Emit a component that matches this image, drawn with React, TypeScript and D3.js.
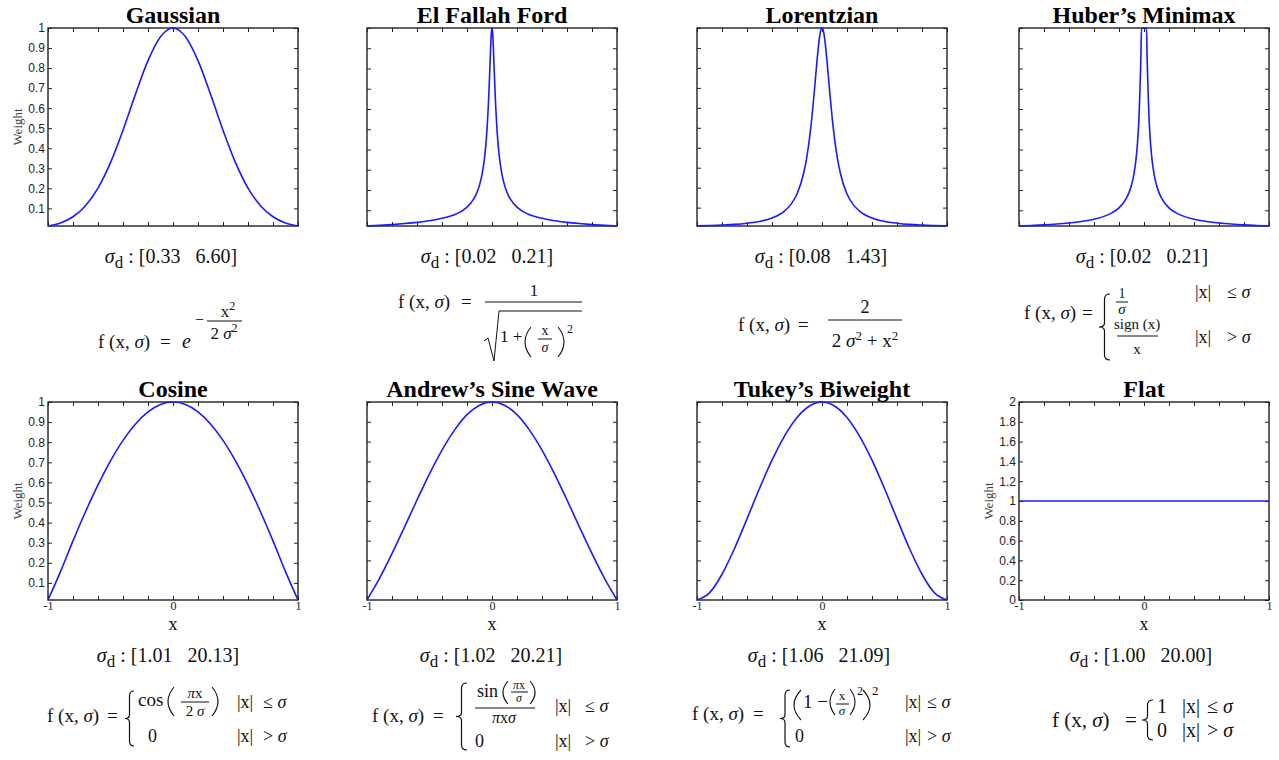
import { useEffect, useRef } from "react"
import * as d3 from "d3"

const SERIF = "'Liberation Serif', 'Times New Roman', serif"
const SANS = "'Liberation Sans', Arial, sans-serif"

// panel titles and sigma ranges
const titles = [
  "Gaussian",
  "El Fallah Ford",
  "Lorentzian",
  "Huber’s Minimax",
  "Cosine",
  "Andrew’s Sine Wave",
  "Tukey’s Biweight",
  "Flat",
]
const sigmaLow = [0.33, 0.02, 0.08, 0.02, 1.01, 1.02, 1.06, 1.0]
const sigmaHigh = [6.6, 0.21, 1.43, 0.21, 20.13, 20.21, 21.09, 20.0]

// sample positions
const xWide = [-1, -0.9, -0.8, -0.7, -0.6, -0.5, -0.4, -0.3, -0.2, -0.1, 0, 0.1, 0.2, 0.3, 0.4, 0.5, 0.6, 0.7, 0.8, 0.9, 1]
const xPeak = [
  -1, -0.9, -0.8, -0.7, -0.6, -0.5, -0.4, -0.3, -0.25, -0.2, -0.15, -0.125, -0.1, -0.08, -0.06, -0.05, -0.04, -0.03,
  -0.025, -0.02, -0.015, -0.01, -0.005, 0, 0.005, 0.01, 0.015, 0.02, 0.025, 0.03, 0.04, 0.05, 0.06, 0.08, 0.1, 0.125,
  0.15, 0.2, 0.25, 0.3, 0.4, 0.5, 0.6, 0.7, 0.8, 0.9, 1,
]
const xFlat = [-1, 1]

// weights
const gaussianW = [0.012, 0.027, 0.058, 0.113, 0.201, 0.328, 0.49, 0.67, 0.837, 0.956, 1, 0.956, 0.837, 0.67, 0.49, 0.328, 0.201, 0.113, 0.058, 0.027, 0.012]
const elFallahW = [
  0.022, 0.025, 0.029, 0.034, 0.04, 0.048, 0.06, 0.078, 0.093, 0.115, 0.152, 0.181, 0.224, 0.276, 0.358, 0.418, 0.498,
  0.608, 0.677, 0.755, 0.837, 0.917, 0.977, 1, 0.977, 0.917, 0.837, 0.755, 0.677, 0.608, 0.498, 0.418, 0.358, 0.276,
  0.224, 0.181, 0.152, 0.115, 0.093, 0.078, 0.06, 0.048, 0.04, 0.034, 0.029, 0.025, 0.022,
]
const lorentzianW = [
  0.008, 0.0099, 0.0125, 0.016, 0.022, 0.031, 0.048, 0.083, 0.115, 0.168, 0.265, 0.341, 0.447, 0.559, 0.692, 0.764,
  0.835, 0.9, 0.928, 0.953, 0.973, 0.988, 0.997, 1, 0.997, 0.988, 0.973, 0.953, 0.928, 0.9, 0.835, 0.764, 0.692, 0.559,
  0.447, 0.341, 0.265, 0.168, 0.115, 0.083, 0.048, 0.031, 0.022, 0.016, 0.0125, 0.0099, 0.008,
]
const huberW = [
  0.0225, 0.025, 0.028, 0.032, 0.0375, 0.045, 0.056, 0.075, 0.09, 0.112, 0.15, 0.18, 0.225, 0.28, 0.375, 0.45, 0.56,
  0.74, 0.85, 1, 1, 1, 1, 1, 1, 1, 1, 1, 0.85, 0.74, 0.56, 0.45, 0.375, 0.28, 0.225, 0.18, 0.15, 0.112, 0.09, 0.075,
  0.056, 0.045, 0.0375, 0.032, 0.028, 0.025, 0.0225,
]
const cosineW = [0.015, 0.156, 0.309, 0.454, 0.588, 0.707, 0.809, 0.891, 0.951, 0.988, 1, 0.988, 0.951, 0.891, 0.809, 0.707, 0.588, 0.454, 0.309, 0.156, 0.015]
const andrewsW = [0, 0.109, 0.234, 0.368, 0.505, 0.637, 0.757, 0.858, 0.936, 0.984, 1, 0.984, 0.936, 0.858, 0.757, 0.637, 0.505, 0.368, 0.234, 0.109, 0]
const tukeyW = [0, 0.036, 0.13, 0.26, 0.41, 0.563, 0.706, 0.828, 0.922, 0.98, 1, 0.98, 0.922, 0.828, 0.706, 0.563, 0.41, 0.26, 0.13, 0.036, 0]
const flatW = [1, 1]

const seriesX = [xWide, xPeak, xPeak, xPeak, xWide, xWide, xWide, xFlat]
const seriesY = [gaussianW, elFallahW, lorentzianW, huberW, cosineW, andrewsW, tukeyW, flatW]

// ticks
const xTicks = [-1, -0.8, -0.6, -0.4, -0.2, 0, 0.2, 0.4, 0.6, 0.8, 1]
const xTickLabels = [-1, 0, 1]
const yTicksUnit = [0.1, 0.2, 0.3, 0.4, 0.5, 0.6, 0.7, 0.8, 0.9, 1]
const yTicksFlat = [0, 0.2, 0.4, 0.6, 0.8, 1, 1.2, 1.4, 1.6, 1.8, 2]

// layout
const panelLeft = [48, 367, 697, 1019]
const rowTop = [28, 402]
const W = 250
const H = 198
const sigmaCenter = [171, 487, 821, 1142, 168, 491, 819, 1141]
const sigmaBase = [263, 662]

const Sig = () => <tspan fontStyle="italic">σ</tspan>

function T({ x, y, s = 19, a = "start", it = false, children }: any) {
  return (
    <text x={x} y={y} fontSize={s} textAnchor={a} fontStyle={it ? "italic" : "normal"} fontFamily={SERIF} fill="#111">
      {children}
    </text>
  )
}

function Bar({ x1, x2, y }: any) {
  return <line x1={x1} x2={x2} y1={y} y2={y} stroke="#111" strokeWidth={1} />
}

function Paren({ xa, xm, y1, y2 }: any) {
  const c = 2 * xm - xa
  return <path d={`M${xa} ${y1} Q${c} ${(y1 + y2) / 2} ${xa} ${y2}`} fill="none" stroke="#111" strokeWidth={1.1} />
}

function Brace({ xl, xr, y1, y2 }: any) {
  const xm = (xl + xr) / 2
  const ym = (y1 + y2) / 2
  const d = `M${xr} ${y1} Q${xm} ${y1} ${xm} ${y1 + 5} L${xm} ${ym - 4} Q${xm} ${ym} ${xl} ${ym} Q${xm} ${ym} ${xm} ${ym + 4} L${xm} ${y2 - 5} Q${xm} ${y2} ${xr} ${y2}`
  return <path d={d} fill="none" stroke="#111" strokeWidth={1.2} />
}

function Formulas() {
  return (
    <g>
      {/* Gaussian */}
      <T x={98} y={348}>f (x, <Sig />)</T>
      <T x={160} y={348}>=</T>
      <T x={182} y={348} s={20} it>e</T>
      <T x={195} y={325} s={16}>−</T>
      <T x={228} y={317} s={17} a="middle">x<tspan fontSize={12} dy={-7}>2</tspan></T>
      <Bar x1={207} x2={242} y={321} />
      <T x={224} y={339} s={17} a="middle">2 <Sig /><tspan fontSize={12} dy={-7}>2</tspan></T>

      {/* El Fallah Ford */}
      <T x={398} y={308}>f (x, <Sig />)</T>
      <T x={461} y={308}>=</T>
      <T x={534} y={296} s={17} a="middle">1</T>
      <Bar x1={485} x2={582} y={302} />
      <path d="M484 341 L488 338 L494 361 L499 311 L582 311" fill="none" stroke="#111" strokeWidth={1} />
      <T x={500} y={342} s={17}>1 +</T>
      <Paren xa={531} xm={525} y1={327} y2={357} />
      <T x={545} y={335} s={14} a="middle">x</T>
      <Bar x1={538} x2={552} y={339} />
      <T x={545} y={352} s={14} a="middle" it>σ</T>
      <Paren xa={558} xm={564} y1={327} y2={357} />
      <T x={567} y={333} s={12}>2</T>

      {/* Lorentzian */}
      <T x={738} y={331}>f (x, <Sig />)</T>
      <T x={798} y={331}>=</T>
      <T x={865} y={313} s={18} a="middle">2</T>
      <Bar x1={828} x2={902} y={320} />
      <T x={865} y={347} s={19} a="middle">
        2 <Sig /><tspan fontSize={13} dy={-7}>2</tspan><tspan dy={7}> + x</tspan><tspan fontSize={13} dy={-7}>2</tspan>
      </T>

      {/* Huber */}
      <T x={1024} y={319}>f (x, <Sig />)</T>
      <T x={1082} y={319}>=</T>
      <Brace xl={1099} xr={1110} y1={294} y2={360} />
      <T x={1122} y={298} s={14} a="middle">1</T>
      <Bar x1={1116} x2={1128} y={302} />
      <T x={1122} y={314} s={15} a="middle" it>σ</T>
      <T x={1195} y={298} s={18}>|x|</T>
      <T x={1227} y={298} s={18}>≤ <Sig /></T>
      <T x={1137} y={329} s={15} a="middle">sign (x)</T>
      <Bar x1={1117} x2={1158} y={336} />
      <T x={1137} y={354} s={15} a="middle">x</T>
      <T x={1195} y={343} s={18}>|x|</T>
      <T x={1227} y={343} s={18}>&gt; <Sig /></T>

      {/* Cosine */}
      <T x={47} y={722}>f (x, <Sig />)</T>
      <T x={107} y={722}>=</T>
      <Brace xl={125} xr={134} y1={691} y2={746} />
      <T x={138} y={706}>cos</T>
      <Paren xa={174} xm={168} y1={687} y2={716} />
      <T x={195} y={698} s={15} a="middle"><tspan fontStyle="italic">π</tspan>x</T>
      <Bar x1={181} x2={209} y={702} />
      <T x={195} y={716} s={15} a="middle">2 <Sig /></T>
      <Paren xa={212} xm={218} y1={687} y2={716} />
      <T x={237} y={708} s={18}>|x|</T>
      <T x={263} y={708} s={18}>≤ <Sig /></T>
      <T x={148} y={742} s={18}>0</T>
      <T x={237} y={742} s={18}>|x|</T>
      <T x={263} y={742} s={18}>&gt; <Sig /></T>

      {/* Andrew's */}
      <T x={372} y={722}>f (x, <Sig />)</T>
      <T x={433} y={722}>=</T>
      <Brace xl={456} xr={467} y1={683} y2={750} />
      <T x={477} y={697} s={18}>sin</T>
      <Paren xa={508} xm={503} y1={681} y2={704} />
      <T x={519} y={689} s={12} a="middle"><tspan fontStyle="italic">π</tspan>x</T>
      <Bar x1={511} x2={528} y={692} />
      <T x={519} y={702} s={12} a="middle" it>σ</T>
      <Paren xa={530} xm={535} y1={681} y2={704} />
      <Bar x1={475} x2={535} y={708} />
      <T x={504} y={723} s={16} a="middle"><tspan fontStyle="italic">π</tspan>x<tspan fontStyle="italic">σ</tspan></T>
      <T x={555} y={712} s={18}>|x|</T>
      <T x={585} y={712} s={18}>≤ <Sig /></T>
      <T x={475} y={747} s={18}>0</T>
      <T x={555} y={747} s={18}>|x|</T>
      <T x={585} y={747} s={18}>&gt; <Sig /></T>

      {/* Tukey */}
      <T x={692} y={720}>f (x, <Sig />)</T>
      <T x={753} y={720}>=</T>
      <Brace xl={780} xr={790} y1={690} y2={747} />
      <Paren xa={801} xm={794} y1={690} y2={720} />
      <T x={803} y={708}>1 −</T>
      <Paren xa={835} xm={830} y1={689} y2={715} />
      <T x={842} y={700} s={13} a="middle">x</T>
      <Bar x1={836} x2={849} y={704} />
      <T x={842} y={715} s={13} a="middle" it>σ</T>
      <Paren xa={850} xm={855} y1={689} y2={715} />
      <T x={857} y={695} s={12}>2</T>
      <Paren xa={863} xm={870} y1={690} y2={720} />
      <T x={872} y={695} s={13}>2</T>
      <T x={905} y={708} s={18}>|x|</T>
      <T x={927} y={708} s={18}>≤ <Sig /></T>
      <T x={795} y={742} s={18}>0</T>
      <T x={905} y={742} s={18}>|x|</T>
      <T x={927} y={742} s={18}>&gt; <Sig /></T>

      {/* Flat */}
      <T x={1052} y={727} s={21}>f (x, <Sig />)</T>
      <T x={1125} y={727} s={21}>=</T>
      <Brace xl={1142} xr={1153} y1={700} y2={740} />
      <T x={1157} y={713} s={20}>1</T>
      <T x={1182} y={713} s={20}>|x|</T>
      <T x={1207} y={713} s={20}>≤ <Sig /></T>
      <T x={1157} y={737} s={20}>0</T>
      <T x={1182} y={737} s={20}>|x|</T>
      <T x={1207} y={737} s={20}>&gt; <Sig /></T>
    </g>
  )
}

export default function App() {
  const gRef = useRef<SVGGElement>(null)

  useEffect(() => {
    if (!gRef.current) return
    const root = d3.select(gRef.current)
    root.selectAll("*").remove()

    titles.forEach((title, i) => {
      const row = i < 4 ? 0 : 1
      const col = i % 4
      const left = panelLeft[col]
      const top = rowTop[row]
      const isFlat = i === 7
      const xs = seriesX[i]
      const ys = seriesY[i]
      const showY = i === 0 || i === 4 || i === 7

      const x = d3.scaleLinear().domain([-1, 1]).range([left, left + W])
      const y = d3
        .scaleLinear()
        .domain(isFlat ? [0, 2] : (d3.extent(ys) as [number, number]))
        .range([top + H, top])
      const yTicks = isFlat ? yTicksFlat : yTicksUnit

      const g = root.append("g")

      const tidy = (sel: any, font: string) => {
        sel.select(".domain").remove()
        sel.selectAll("line").attr("stroke", "#222").attr("stroke-width", 1)
        sel.selectAll("text").attr("font-family", font).attr("font-size", 12).attr("fill", "#222")
      }

      // bottom
      g.append("g")
        .attr("transform", `translate(0,${top + H})`)
        .call(
          d3
            .axisBottom(x)
            .tickValues(xTicks)
            .tickSizeInner(-4)
            .tickSizeOuter(0)
            .tickPadding(1)
            .tickFormat((d) => (row === 1 && xTickLabels.includes(+d) ? String(d) : ""))
        )
        .call((s) => tidy(s, SERIF))
      // top
      g.append("g")
        .attr("transform", `translate(0,${top})`)
        .call(d3.axisTop(x).tickValues(xTicks).tickSizeInner(-4).tickSizeOuter(0).tickFormat(() => ""))
        .call((s) => tidy(s, SERIF))
      // left
      g.append("g")
        .attr("transform", `translate(${left},0)`)
        .call(
          d3
            .axisLeft(y)
            .tickValues(yTicks)
            .tickSizeInner(-4)
            .tickSizeOuter(0)
            .tickPadding(3)
            .tickFormat((d) => (showY ? String(d) : ""))
        )
        .call((s) => tidy(s, SANS))
      // right
      g.append("g")
        .attr("transform", `translate(${left + W},0)`)
        .call(d3.axisRight(y).tickValues(yTicks).tickSizeInner(-4).tickSizeOuter(0).tickFormat(() => ""))
        .call((s) => tidy(s, SANS))

      g.append("rect")
        .attr("x", left)
        .attr("y", top)
        .attr("width", W)
        .attr("height", H)
        .attr("fill", "none")
        .attr("stroke", "#222")
        .attr("stroke-width", 1.4)

      const line = d3
        .line<number>()
        .x((_, j) => x(xs[j]))
        .y((d) => y(d))
        .curve(d3.curveMonotoneX)

      g.append("path")
        .datum(ys)
        .attr("d", line)
        .attr("fill", "none")
        .attr("stroke", "#1a1aff")
        .attr("stroke-width", 1.6)

      // title
      g.append("text")
        .attr("x", left + W / 2)
        .attr("y", top - 5)
        .attr("text-anchor", "middle")
        .attr("font-family", SERIF)
        .attr("font-weight", "bold")
        .attr("font-size", 24)
        .attr("fill", "#000")
        .text(title)

      if (showY) {
        g.append("text")
          .attr("transform", `translate(${left - 26},${top + H / 2}) rotate(-90)`)
          .attr("text-anchor", "middle")
          .attr("font-family", SERIF)
          .attr("font-size", 13)
          .attr("fill", "#444")
          .text("Weight")
      }

      if (row === 1) {
        g.append("text")
          .attr("x", left + W / 2)
          .attr("y", top + H + 30)
          .attr("text-anchor", "middle")
          .attr("font-family", SERIF)
          .attr("font-size", 18)
          .attr("fill", "#111")
          .text("x")
      }

      // sigma range
      const t = g
        .append("text")
        .attr("x", sigmaCenter[i])
        .attr("y", sigmaBase[row])
        .attr("text-anchor", "middle")
        .attr("font-family", SERIF)
        .attr("font-size", 20)
        .attr("fill", "#111")
      t.append("tspan").attr("font-style", "italic").text("σ")
      t.append("tspan").attr("font-size", 17).attr("dy", 5).text("d")
      t.append("tspan")
        .attr("dy", -5)
        .text(`\u00A0: [${sigmaLow[i].toFixed(2)}\u00A0\u00A0\u00A0${sigmaHigh[i].toFixed(2)}]`)
    })
  }, [])

  return (
    <div style={{ position: "absolute", left: 0, top: 0, background: "#fff" }}>
      <svg width={1279} height={760} style={{ display: "block" }}>
        <rect width={1279} height={760} fill="#fff" />
        <g ref={gRef} />
        <Formulas />
      </svg>
    </div>
  )
}
